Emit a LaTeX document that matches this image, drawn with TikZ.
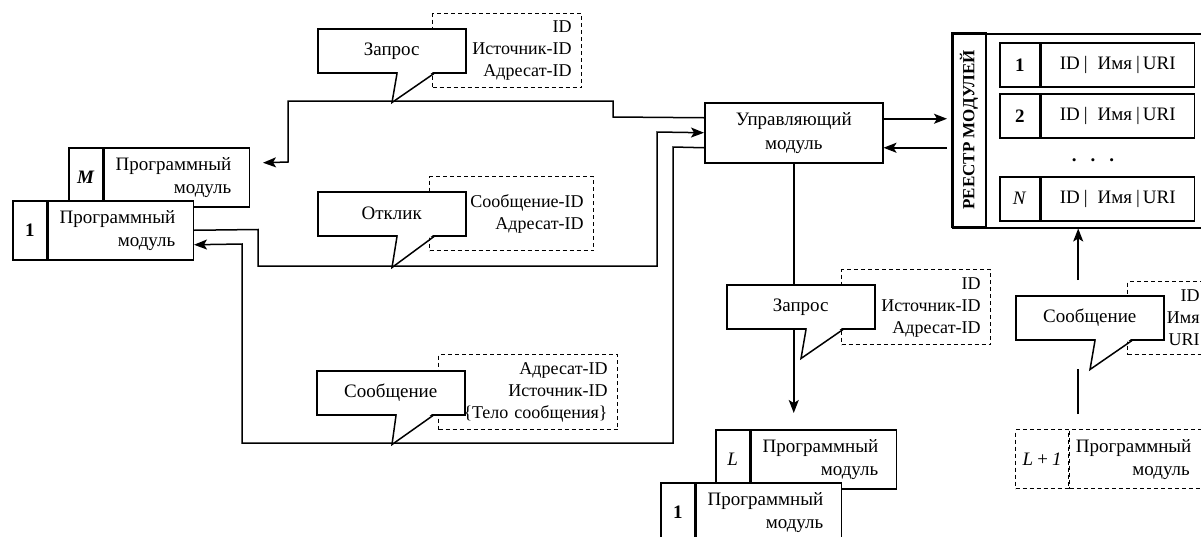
\documentclass[tikz,border=0pt]{standalone}
\usepackage{fontspec}
\setmainfont{Liberation Serif}
\usetikzlibrary{arrows.meta,calc}
\newcommand\mytail[2]{%
  \fill[white] ($(#1.south west)+(81,-1.6)$) -- ($(#1.south west)+(116,-1.6)$) -- (#2) -- cycle;
  \draw[ln,line join=miter] ($(#1.south west)+(80,0)$) -- (#2) -- ($(#1.south west)+(117,0)$);}
\newcommand\rowtxt{ID\hspace{4pt}|\hspace{10pt}Имя\hspace{4pt}|\hspace{3pt}URI}
\newcommand\progmod[1]{Программный\kern#1\\модуль\kern#1}
\begin{document}
\begin{tikzpicture}[x=1pt,y=-1pt,
 every node/.style={font=\fontsize{19}{23}\selectfont, inner sep=0pt},
 ln/.style={line width=1.5pt},
 arr/.style={ln,-{Stealth[length=13pt,width=10pt,inset=3pt]}},
 bx/.style={draw,ln,fill=white,anchor=north west},
 mcell/.style={bx,minimum width=34pt,minimum height=59pt},
 modtext/.style={bx,minimum width=145pt,minimum height=59pt,text width=125pt,align=right},
 callbox/.style={bx,minimum width=148pt,minimum height=44pt},
 dsh/.style={line width=1.2pt,dash pattern=on 4pt off 3pt},
 dbox/.style={draw,dsh,anchor=north west,minimum height=74pt,inner xsep=10pt,align=right,font=\fontsize{18}{22}\selectfont},
 rowcell/.style={bx,minimum width=40pt,minimum height=44pt},
 rowtext/.style={bx,minimum width=153pt,minimum height=44pt},
]
\useasboundingbox (0,0) rectangle (1201,536);
\clip (0,0) rectangle (1201,536);

% left modules
\node[mcell] (mMc) at (68,147) {\textbf{\textit{M}}};
\node[modtext] (mMt) at (mMc.north east) {\progmod{8pt}};
\node[mcell] (m1c) at (12,200) {\textbf{1}};
\node[modtext] (m1t) at (m1c.north east) {\progmod{8pt}};

% control module
\node[bx,minimum width=178pt,minimum height=60pt,align=center,font=\fontsize{19}{24}\selectfont] (ctrl) at (704,102) {Управляющий\\модуль};

% registry
\node[bx,minimum width=270pt,minimum height=194pt] (reg) at (952,33) {};
\node[draw,ln,rotate=90,minimum width=194pt,minimum height=34pt,font=\fontsize{17}{20}\selectfont\bfseries] (regtitle) at (969,130) {РЕЕСТР МОДУЛЕЙ};
\node[rowcell] (r1c) at (999,42) {\textbf{1}};
\node[rowtext] (r1t) at (r1c.north east) {\rowtxt};
\node[rowcell] (r2c) at (999,93) {\textbf{2}};
\node[rowtext] (r2t) at (r2c.north east) {\rowtxt};
\node (dots) at (1093,160) {\textbf{.\hspace{14pt}.\hspace{14pt}.}};
\node[rowcell] (rNc) at (999,176) {\textit{N}};
\node[rowtext] (rNt) at (rNc.north east) {\rowtxt};

% bottom modules
\node[mcell] (mLc) at (715,429) {\textit{L}};
\node[modtext] (mLt) at (mLc.north east) {\progmod{8pt}};
\node[mcell] (mb1c) at (660,482) {\textbf{1}};
\node[modtext] (mb1t) at (mb1c.north east) {\progmod{8pt}};
\node[mcell,dsh,minimum width=53pt] (mL1c) at (1015,429) {\textit{L\,+\,1}};
\node[modtext,dsh,minimum width=138pt,text width=126pt] (mL1t) at (mL1c.north east) {\progmod{12pt}};

% target coordinates
\coordinate (mMin) at ($(mMt.east)+(13,-14.5)$);
\coordinate (Ltgt) at ($(ctrl.south |- mLt.north)+(0,-16)$);
\coordinate (p1) at ($(mL1t.north west)+(9,-15)$);

% connectors
\draw[arr] ($(ctrl.west)+(0,-15)$) -- (613,117) -- (613,101) -- (288,101) -- (288,162) -- (mMin);
\draw[arr] (m1t.east) -- (258,229.5) -- (258,266) -- (657,266) -- (657,132) -- (ctrl.west);
\draw[arr] ($(ctrl.west)+(0,15)$) -- (673,147) -- (673,443) -- (242,443) -- (242,244) -- ($(m1t.east)+(0,14.5)$);
\draw[arr] ($(ctrl.east)+(0,-14)$) -- ($(reg.west)+(-5,-12)$);
\draw[arr] ($(reg.west)+(-5,17)$) -- ($(ctrl.east)+(0,15)$);
\draw[arr] (ctrl.south) -- (Ltgt);
\draw[ln] (p1) -- ($(p1)+(0,-45)$);
\draw[arr] ($(p1)+(0,-134)$) -- (p1 |- reg.south);

% dashed parameter boxes
\node[dbox,text width=129pt] (zqd) at (432,13) {ID\\Источник-ID\\Адресат-ID};
\node[dbox,text width=144pt] (otd) at (429,176) {Сообщение-ID\\Адресат-ID};
\node[dbox,text width=159pt,minimum height=75pt] (sod) at (438,354) {Адресат-ID\\Источник-ID\\\{Тело сообщения\}};
\node[dbox,text width=129pt,minimum height=75pt] (zq2d) at (841,269) {ID\\Источник-ID\\Адресат-ID};
\node[dbox,text width=62pt,minimum height=73pt] (so2d) at (1127,281) {ID\\Имя\\URI};

% callouts
\node[callbox] (zq) at (317,28) {Запрос};
\coordinate (zqtip) at ($(zq.south west)+(75,29)$);
\mytail{zq}{zqtip}
\node[callbox] (ot) at (317,191) {Отклик};
\coordinate (ottip) at ($(ot.south west)+(75,31)$);
\mytail{ot}{ottip}
\node[callbox] (so) at (316,370) {Сообщение};
\coordinate (sotip) at ($(so.south west)+(76,29)$);
\mytail{so}{sotip}
\node[callbox] (zq2) at (726,284) {Запрос};
\coordinate (zq2tip) at ($(zq2.south west)+(75,29)$);
\mytail{zq2}{zq2tip}
\node[callbox] (so2) at (1015,295) {Сообщение};
\coordinate (so2tip) at ($(so2.south west)+(75,29)$);
\mytail{so2}{so2tip}
\end{tikzpicture}
\end{document}
